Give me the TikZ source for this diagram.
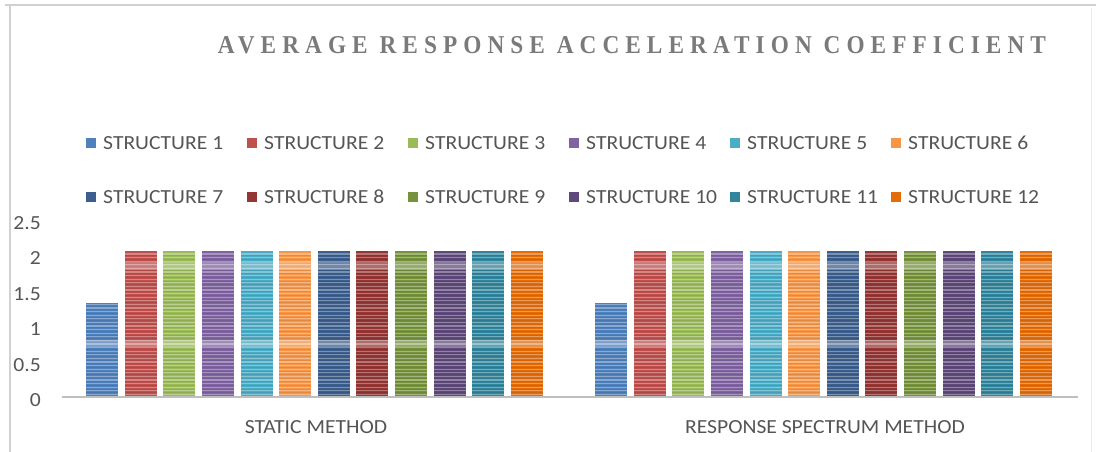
\documentclass[tikz,border=0pt]{standalone}
\usepackage{graphicx}
\usepackage{fontspec}
\setmainfont{Carlito}
\newfontfamily\titlefont[LetterSpace=26]{Liberation Serif}
\definecolor{c1}{HTML}{4F81BD}
\definecolor{c2}{HTML}{C0504D}
\definecolor{c3}{HTML}{9BBB59}
\definecolor{c4}{HTML}{8064A2}
\definecolor{c5}{HTML}{4BACC6}
\definecolor{c6}{HTML}{F79646}
\definecolor{c7}{HTML}{3C5F8E}
\definecolor{c8}{HTML}{943634}
\definecolor{c9}{HTML}{76923C}
\definecolor{c10}{HTML}{5F497A}
\definecolor{c11}{HTML}{31859C}
\definecolor{c12}{HTML}{E36C09}
\definecolor{txt}{HTML}{555555}
\definecolor{ttl}{HTML}{7A7A7A}
\definecolor{axisc}{HTML}{BFBFBF}
\begin{document}
\begin{tikzpicture}[x=1pt,y=-1pt,
  lbl/.style={font=\fontsize{20}{20}\selectfont, text=txt, inner sep=0pt, xscale=1.08},
  frameline/.style={draw=black!18, line width=1.5pt},
  stripe/.style={draw=white, opacity=0.32, line width=1.3pt},
  darkstripe/.style={draw=black, opacity=0.08, line width=0.8pt}]
\useasboundingbox (0,0) rectangle (1096,452);
% frame
\draw[frameline] (5,5) -- (1096,5);
\draw[frameline] (10,5) -- (10,452);
\draw[draw=black!8, line width=1pt] (1091,8) -- (1091,452);
% title
\node[inner sep=0pt, text=ttl] (title) at (632,45)
  {\resizebox{828pt}{17pt}{\titlefont\bfseries AVERAGE RESPONSE ACCELERATION COEFFICIENT}};
% legend
\foreach \i in {1,...,12}{
  \pgfmathtruncatemacro{\r}{(\i-1)/6}
  \pgfmathtruncatemacro{\c}{mod(\i-1,6)}
  \pgfmathsetmacro{\lx}{91+161*\c}
  \pgfmathsetmacro{\ly}{143+54*\r}
  \fill[c\i] (\lx-5,\ly-5) rectangle (\lx+5,\ly+5);
  \node[lbl, anchor=west] (leg\i) at (\lx+12,\ly) {STRUCTURE \i};
}
% y axis labels
\foreach \v/\t in {0/0,0.5/0.5,1/1,1.5/1.5,2/2,2.5/2.5}{
  \node[lbl, anchor=east] (y\t) at (41,{400-70.8*\v}) {\t};
}
% bars
\foreach \gx in {86,595}{
  \foreach \i in {1,...,12}{
    \pgfmathsetmacro{\bx}{\gx+(\i-1)*38.64}
    \pgfmathsetmacro{\h}{\i==1 ? 94 : 146}
    \pgfmathtruncatemacro{\n}{\h/3.6}
    \fill[c\i] (\bx,397) rectangle (\bx+32,397-\h);
    \foreach \k in {1,...,\n}{
      \draw[stripe] (\bx,{397-\k*3.6+1}) -- (\bx+32,{397-\k*3.6+1});
      \draw[darkstripe] (\bx,{397-\k*3.6+2.8}) -- (\bx+32,{397-\k*3.6+2.8});
    }
    \fill[white, opacity=0.28] (\bx,340) rectangle (\bx+32,347);
    \ifnum\i>1
      \fill[white, opacity=0.28] (\bx,262) rectangle (\bx+32,270);
    \fi
  }
}
% axis
\coordinate (a0) at (62,397);
\coordinate (a1) at (1078,397);
\draw[axisc, line width=2pt] (a0) -- (a1);
% category labels
\node[lbl] (cat1) at (316,427) {STATIC METHOD};
\node[lbl] (cat2) at (825,427) {RESPONSE SPECTRUM METHOD};
\end{tikzpicture}
\end{document}
